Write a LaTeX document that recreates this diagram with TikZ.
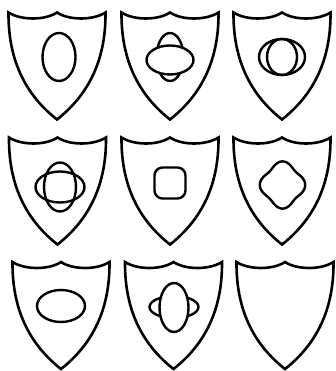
\documentclass[tikz,border=0pt]{standalone}
\usepackage{tikz}
\tikzset{
  crestline/.style={line width=2.6pt,line join=miter},
  charge/.style={line width=2.4pt},
  pics/crest/.style={code={
    \draw[crestline] (-48.5,0) .. controls (-36,-8) and (-12,-8) .. (0,0)
      .. controls (12,-8) and (36,-8) .. (48.5,0)
      .. controls (49,-52) and (28,-85) .. (0,-107)
      .. controls (-28,-85) and (-49,-52) .. (-48.5,0) -- cycle;
  }}
}
\begin{document}
\begin{tikzpicture}[x=1pt,y=1pt]
\useasboundingbox (0,0) rectangle (335,371);
% shields
\pic at (57,358.5) {crest};
\pic at (170,358.5) {crest};
\pic at (282,358.5) {crest};
\pic at (57.5,233.5) {crest};
\pic at (170,233.5) {crest};
\pic at (282,233.5) {crest};
\pic at (61,109) {crest};
\pic at (173.5,109) {crest};
\pic at (285,109) {crest};
% row 1
\draw[charge] (59,314) ellipse [x radius=16.5,y radius=24];
\draw[charge] (170,314) ellipse [x radius=13.5,y radius=24];
\draw[charge,fill=white] (170,311) ellipse [x radius=23.5,y radius=14.5];
\draw[charge] (282,314) ellipse [x radius=23,y radius=18];
\draw[charge] (282,314) ellipse [x radius=15,y radius=18];
% row 2
\draw[charge] (60,184) ellipse [x radius=16,y radius=24.5];
\draw[charge] (60,184) ellipse [x radius=24.5,y radius=15.5];
\draw[charge,rounded corners=8pt] (154.5,172.5) rectangle (185.5,203.5);
\draw[charge,shift={(282.5,186)},yscale=1.04] plot[domain=0:355,samples=72,smooth cycle] ({\x}:{20.5+2.2*cos(4*\x)});
% row 3
\draw[charge] (61,65) ellipse [x radius=24,y radius=16];
\draw[charge] (174,64) ellipse [x radius=24.5,y radius=11];
\draw[charge,fill=white] (174,63.5) ellipse [x radius=14.5,y radius=24.5];
\end{tikzpicture}
\end{document}
